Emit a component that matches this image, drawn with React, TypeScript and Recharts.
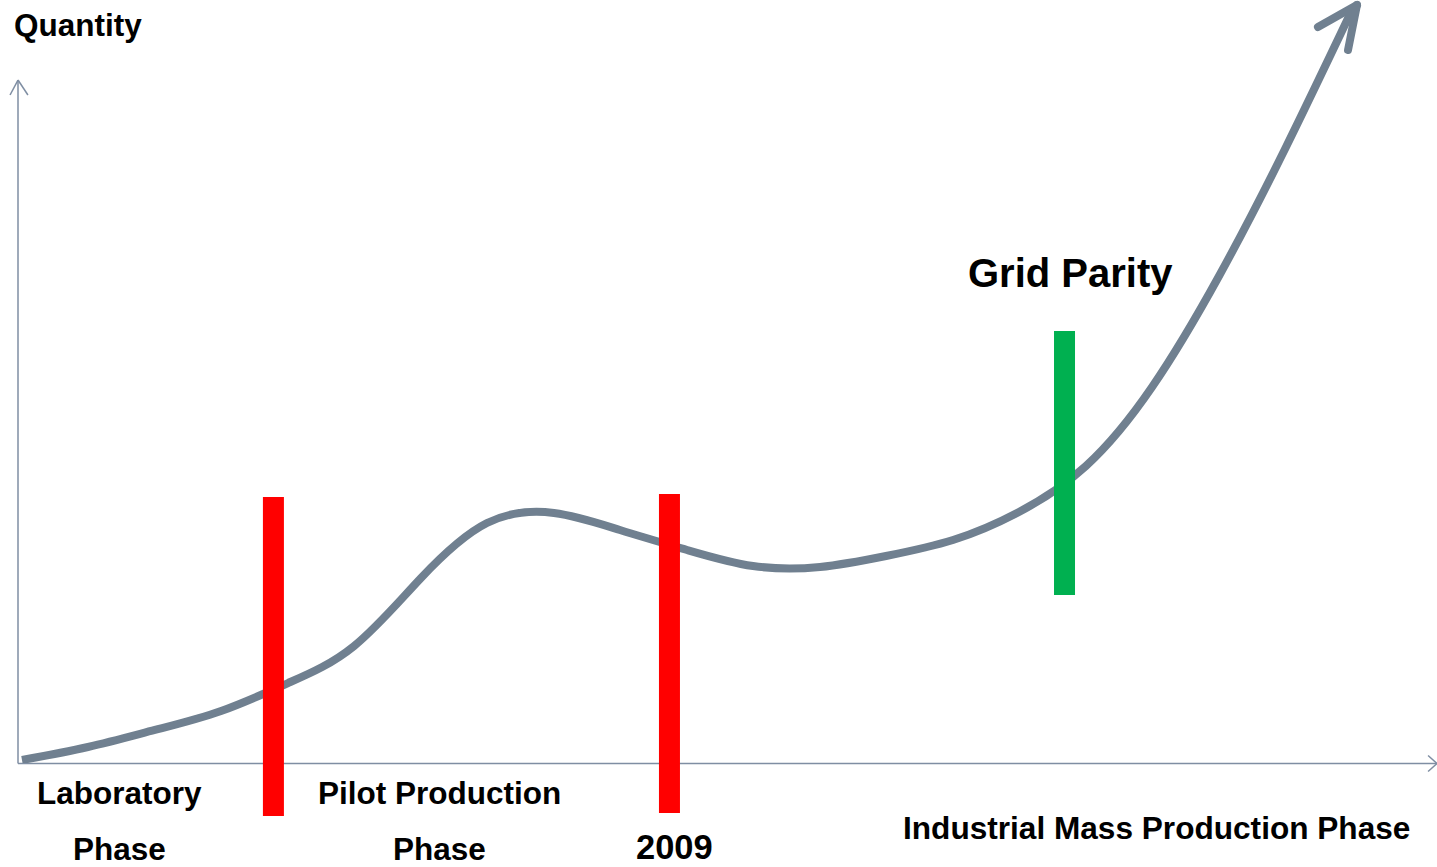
import { ComposedChart, Line, ReferenceLine, XAxis, YAxis } from "recharts"

// curve: time (0-100) vs quantity (0-100)
const curveX = [0.28, 4.93, 9.65, 14.31, 19.03, 23.68, 28.4, 33.05, 37.77, 42.42, 47.15, 51.8, 56.52, 61.17, 65.89, 70.54, 75.26, 79.92, 84.64, 89.29, 94.01]
const curveY = [0.39, 2.1, 4.33, 6.82, 10.48, 15.33, 24.25, 31.45, 32.77, 30.54, 27.92, 25.82, 25.69, 27.13, 29.23, 32.9, 38.93, 49.28, 63.83, 80.47, 98.69]

// arrow head at the end of the curve: tip, left barb, right barb
const arrowTip = { x: 94.36, y: 99.34 }
const arrowBarbs = [
  { x: 91.61, y: 96.46 },
  { x: 93.73, y: 93.45 },
]

// phase markers
const markerX = [18.0, 45.91, 73.75]
const markerLow = [-6.95, -6.55, 22.02]
const markerHigh = [34.86, 35.26, 56.62]
const markerColor = ["#FF0000", "#FF0000", "#00B050"]

// axis extents
const yAxisTop = 89.51
const xAxisEnd = 100
const axisBaseY = -0.07

const curveData = curveX.map((x, i) => ({ x, quantity: curveY[i] }))

const W = 1437
const H = 867
const AXIS = "#7f8ea3"
const CURVE = "#708090"
const font = { fontFamily: "'Liberation Sans', Arial, sans-serif", fontWeight: 700, fill: "#000" }

const labels = [
  { text: "Quantity", x: 14, y: 36, size: 31.5 },
  { text: "Laboratory", x: 37, y: 804, size: 31.5 },
  { text: "Phase", x: 73, y: 860, size: 31.5 },
  { text: "Pilot Production", x: 318, y: 804, size: 31.5 },
  { text: "Phase", x: 393, y: 860, size: 31.5 },
  { text: "2009", x: 636, y: 859, size: 34.5 },
  { text: "Industrial Mass Production Phase", x: 903, y: 839, size: 31.6 },
  { text: "Grid Parity", x: 968, y: 287, size: 40 },
]

const App = () => {
  return (
    <div style={{ position: "absolute", left: 0, top: 0, width: W, height: H, background: "#fff" }}>
      <ComposedChart width={W} height={H} data={curveData} margin={{ top: 0, right: 0, bottom: 104, left: 18 }}>
        <XAxis dataKey="x" type="number" domain={[0, 100]} hide allowDataOverflow />
        <YAxis type="number" domain={[0, 100]} hide allowDataOverflow />

        {/* axes with arrow heads */}
        <ReferenceLine segment={[{ x: 0, y: axisBaseY }, { x: 0, y: yAxisTop }]} stroke={AXIS} strokeWidth={1.5} ifOverflow="visible" />
        <ReferenceLine segment={[{ x: 0, y: yAxisTop }, { x: -0.56, y: yAxisTop - 1.96 }]} stroke={AXIS} strokeWidth={1.5} ifOverflow="visible" />
        <ReferenceLine segment={[{ x: 0, y: yAxisTop }, { x: 0.7, y: yAxisTop - 1.96 }]} stroke={AXIS} strokeWidth={1.5} ifOverflow="visible" />
        <ReferenceLine segment={[{ x: 0, y: axisBaseY }, { x: xAxisEnd, y: axisBaseY }]} stroke={AXIS} strokeWidth={1.5} ifOverflow="visible" />
        <ReferenceLine segment={[{ x: xAxisEnd, y: axisBaseY }, { x: xAxisEnd - 0.63, y: axisBaseY + 1.05 }]} stroke={AXIS} strokeWidth={1.5} ifOverflow="visible" />
        <ReferenceLine segment={[{ x: xAxisEnd, y: axisBaseY }, { x: xAxisEnd - 0.63, y: axisBaseY - 1.05 }]} stroke={AXIS} strokeWidth={1.5} ifOverflow="visible" />

        <Line
          dataKey="quantity"
          type="natural"
          stroke={CURVE}
          strokeWidth={8}
          dot={false}
          activeDot={false}
          isAnimationActive={false}
        />
        {arrowBarbs.map((b, i) => (
          <ReferenceLine
            key={"barb" + i}
            segment={[arrowTip, b]}
            stroke={CURVE}
            strokeWidth={8}
            strokeLinecap="round"
            ifOverflow="visible"
          />
        ))}

        {markerX.map((x, i) => (
          <ReferenceLine
            key={"m" + i}
            segment={[{ x, y: markerLow[i] }, { x, y: markerHigh[i] }]}
            stroke={markerColor[i]}
            strokeWidth={21}
            ifOverflow="visible"
          />
        ))}

        {labels.map((l, i) => (
          <text key={"t" + i} x={l.x} y={l.y} fontSize={l.size} {...font}>
            {l.text}
          </text>
        ))}
      </ComposedChart>
    </div>
  )
}

export default App
